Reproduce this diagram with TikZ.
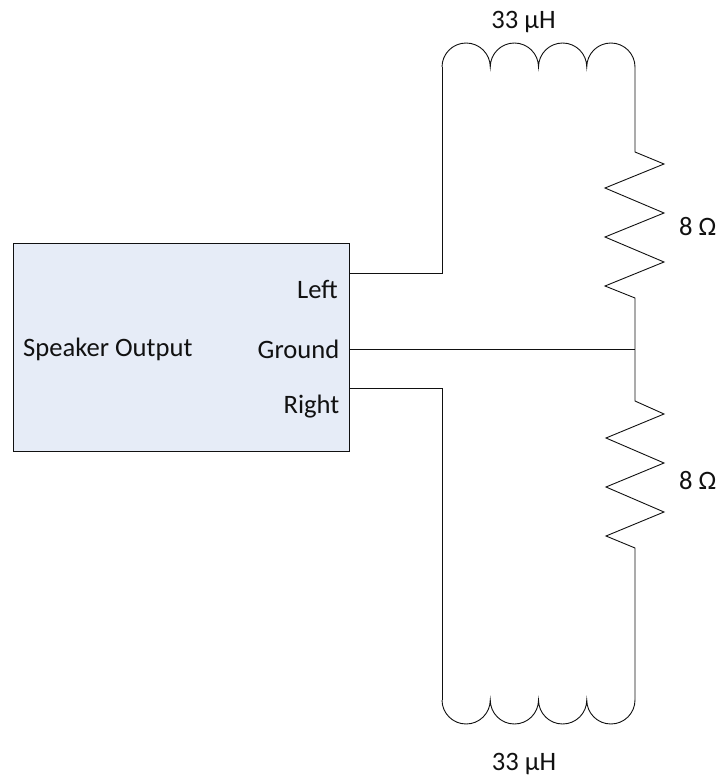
\documentclass[tikz,border=0pt]{standalone}
\usepackage{fontspec}
\setmainfont{Carlito}
\definecolor{boxfill}{HTML}{E6ECF7}
\definecolor{inkc}{HTML}{111111}
\tikzset{
  wire/.style={draw=inkc,line width=0.9pt,line join=miter},
  device/.style={draw=inkc,fill=boxfill,line width=0.9pt,rectangle,inner sep=0pt,outer sep=0pt,minimum width=336pt,minimum height=208pt},
  lbl/.style={text=inkc,inner sep=0pt,font=\fontsize{26.6pt}{30pt}\selectfont},
}
\begin{document}
\begin{tikzpicture}[x=1pt,y=-1pt]
\useasboundingbox (0,0) rectangle (718,776);
\node[device] (box) at (181,347) {};
\node[lbl,anchor=base west] (title) at (23,356.5) {Speaker Output};
\node[lbl,anchor=base east] (left) at (338,298) {Left};
\node[lbl,anchor=base east] (ground) at (339.5,358) {Ground};
\node[lbl,anchor=base east] (right) at (339.5,413) {Right};
\node[lbl,anchor=base] (ltop) at (523.5,28.5) {33 µH};
\node[lbl,anchor=base] (lbot) at (524,770.5) {33 µH};
\node[lbl,anchor=base west] (rtop) at (679,235) {8 Ω};
\node[lbl,anchor=base west] (rbot) at (679,489) {8 Ω};
\coordinate (lout) at (box.east |- 0,273);
\coordinate (gout) at (box.east |- 0,349.5);
\coordinate (rout) at (box.east |- 0,388.5);
\coordinate (tl) at (442,67);
\coordinate (tr) at (635,67);
\coordinate (bl) at (442,700);
\coordinate (br) at (635,700);
\coordinate (junction) at (635,349.5);
% left channel
\draw[wire] (lout) -| (tl);
\draw[wire] (tl) arc[start angle=180,end angle=0,x radius=24.125,y radius=-24]
  arc[start angle=180,end angle=0,x radius=24.125,y radius=-24]
  arc[start angle=180,end angle=0,x radius=24.125,y radius=-24]
  arc[start angle=180,end angle=0,x radius=24.125,y radius=-24];
\draw[wire] (tr) -- (635,152) -- (664,164) -- (605,188) -- (664,213) -- (605,237) -- (664,262) -- (605,286) -- (635,298) -- (junction);
% ground
\draw[wire] (gout) -- (junction);
% right channel
\draw[wire] (junction) -- (635,401) -- (664,414) -- (606,438) -- (664,463) -- (606,487) -- (664,512) -- (606,536) -- (635,548) -- (br);
\draw[wire] (rout) -| (bl);
\draw[wire] (bl) arc[start angle=180,end angle=0,x radius=24.125,y radius=24]
  arc[start angle=180,end angle=0,x radius=24.125,y radius=24]
  arc[start angle=180,end angle=0,x radius=24.125,y radius=24]
  arc[start angle=180,end angle=0,x radius=24.125,y radius=24];
\end{tikzpicture}
\end{document}
